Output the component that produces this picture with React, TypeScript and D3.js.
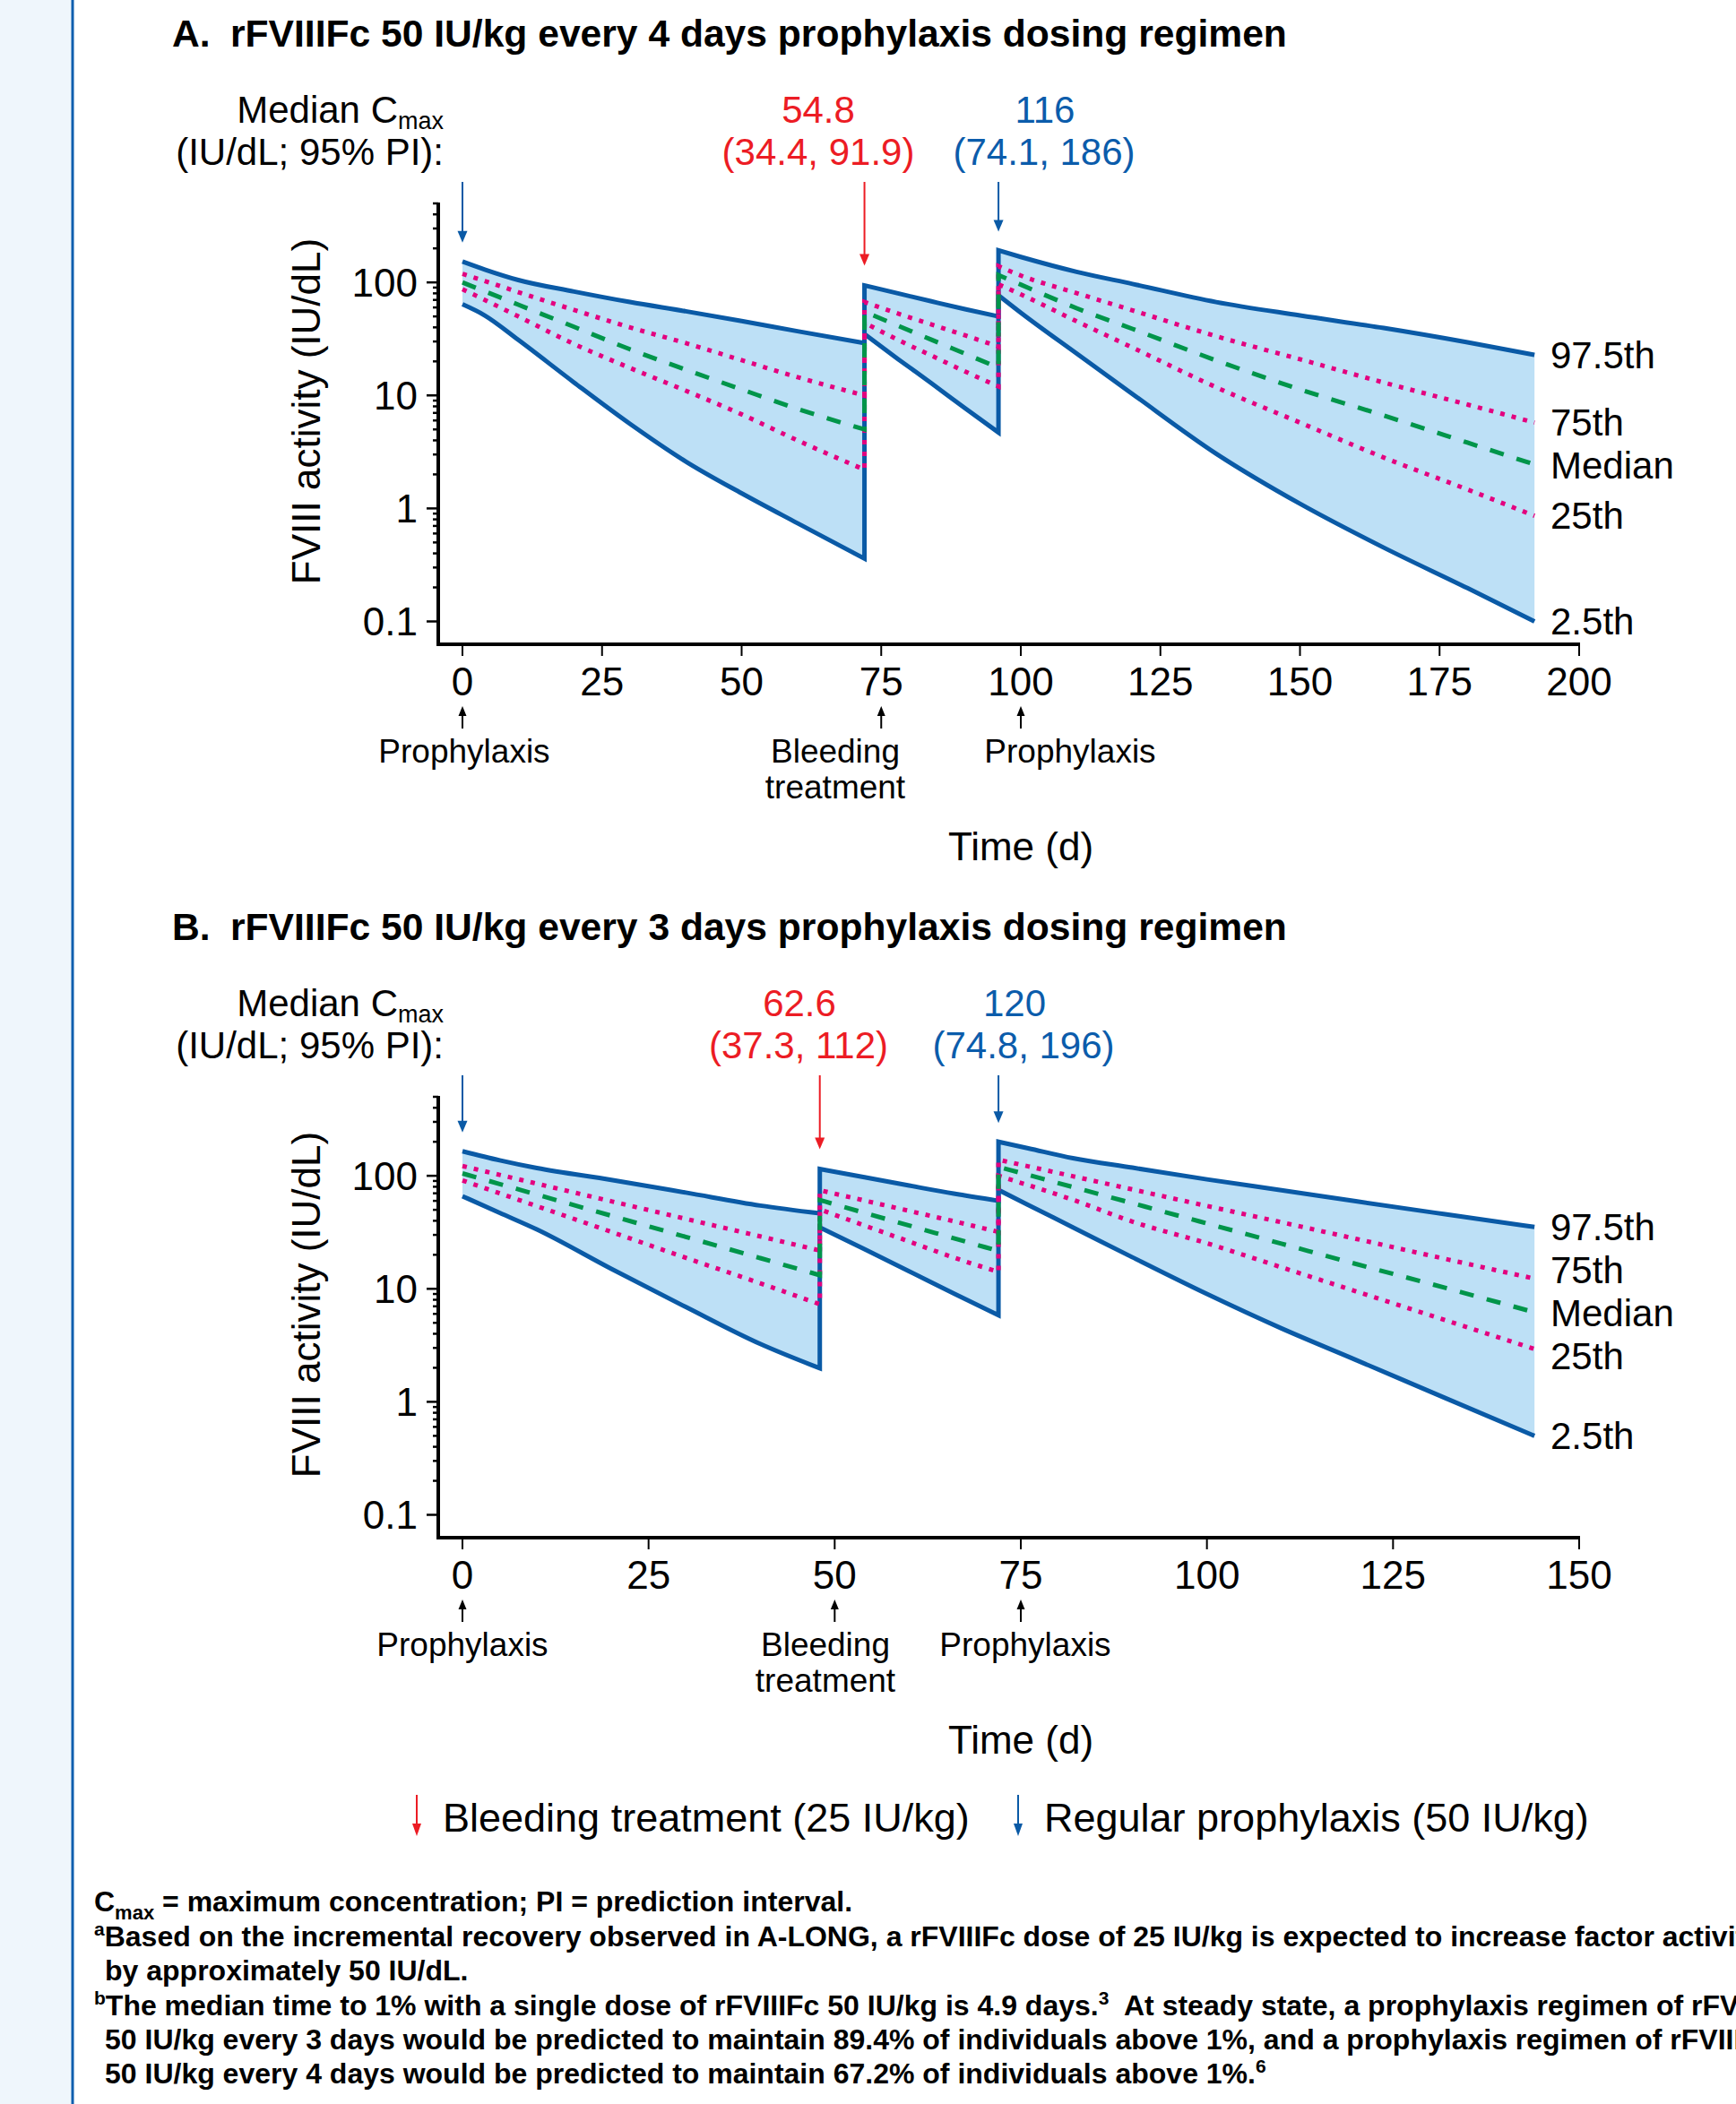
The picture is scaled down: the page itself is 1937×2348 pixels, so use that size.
import React from 'react';
import * as d3 from 'd3';

// ---------- Panel A data (rFVIIIFc 50 IU/kg every 4 days) ----------
const A_time = [0, 4, 10, 20, 30, 40, 50, 60, 72, 72, 78, 84, 90, 96, 96, 100, 110, 120, 135, 150, 165, 180, 192];
const A_p975 = [153, 130, 105, 83, 67, 55.5, 45.5, 37, 29, 94, 80, 68, 58, 50, 192, 168, 124, 97, 67, 51, 39.5, 29.5, 22.8];
const A_p75 = [119, 103, 82, 57, 40, 29, 20.5, 14.5, 10, 67, 53, 42.5, 34, 27, 139, 115, 80.4, 56.6, 33.4, 20.9, 13, 8.3, 5.75];
const A_median = [100, 83.4, 63.5, 40.4, 25.6, 16.9, 11.3, 7.6, 5.0, 55, 41.4, 31.1, 23.4, 17.6, 116, 95.5, 59.1, 38.8, 20.4, 11.3, 6.64, 3.82, 2.45];
const A_p25 = [87, 70, 50, 28.5, 17.5, 11, 6.8, 4.0, 2.2, 44, 31, 22.5, 16.3, 12, 96, 78.4, 45.3, 26.5, 11.8, 5.75, 2.82, 1.47, 0.86];
const A_p025 = [64, 51, 31, 13, 5.6, 2.6, 1.36, 0.74, 0.36, 35, 21, 12.8, 7.7, 4.7, 77, 54, 23.5, 10.3, 3.05, 1.1, 0.45, 0.197, 0.10];
const A_xTicks = [0, 25, 50, 75, 100, 125, 150, 175, 200];
const A_prophylaxisDoses = [0, 96];
const A_bleedingDoses = [72];
const A_cmaxBleed = ['54.8', '(34.4, 91.9)'];
const A_cmaxProph = ['116', '(74.1, 186)'];
const A_eventTicks = [0, 75, 100];

// ---------- Panel B data (rFVIIIFc 50 IU/kg every 3 days) ----------
const B_time = [0, 5, 10, 20, 30, 40, 48, 48, 54, 60, 66, 72, 72, 76, 82, 90, 100, 110, 120, 132, 144];
const B_p975 = [165, 137, 117, 92, 71, 54.5, 46.5, 115, 97, 82, 69.5, 60, 200, 175, 143, 118, 93, 74.5, 59.5, 45.7, 35.2];
const B_p75 = [122, 102, 85.2, 59.5, 41.6, 29.1, 21.8, 74.5, 60.4, 48.9, 39.6, 31.9, 138.7, 121.2, 99.1, 75.7, 54.1, 38.8, 27.7, 18.4, 12.3];
const B_median = [105, 84.6, 68.2, 44.3, 28.8, 18.7, 13.2, 61, 47, 36.3, 28, 21.6, 120, 101.8, 79.5, 57.2, 37.9, 25.1, 16.6, 10.2, 6.2];
const B_p25 = [91, 70, 53.9, 31.9, 18.8, 11.2, 7.3, 50.4, 36.3, 26.2, 18.9, 14.1, 100, 82.6, 61.3, 39.3, 25.3, 15.5, 9.5, 5.28, 2.93];
const B_p025 = [66, 47, 33.5, 15, 6.9, 3.25, 1.98, 35, 22.4, 14.3, 9.1, 5.85, 75, 55.1, 35, 19, 9.0, 4.47, 2.35, 1.08, 0.5];
const B_xTicks = [0, 25, 50, 75, 100, 125, 150];
const B_prophylaxisDoses = [0, 72];
const B_bleedingDoses = [48];
const B_cmaxBleed = ['62.6', '(37.3, 112)'];
const B_cmaxProph = ['120', '(74.8, 196)'];
const B_eventTicks = [0, 50, 75];

const yMajor = [0.1, 1, 10, 100];
const yMinor = [0.2, 0.3, 0.4, 0.5, 0.6, 0.7, 0.8, 0.9, 2, 3, 4, 5, 6, 7, 8, 9, 20, 30, 40, 50, 60, 70, 80, 90, 200, 300, 400, 500];
const curveLabels = ['97.5th', '75th', 'Median', '25th', '2.5th'];

const FONT = "'Liberation Sans', Arial, Helvetica, sans-serif";
const BLUE = '#0a5aa6';
const FILL = '#bde0f6';
const PINK = '#e3007f';
const GREEN = '#00954a';
const RED = '#ec1c24';
const TXTBLUE = '#0b5cab';

function spread(ys: number[], gap: number): number[] {
  const arr = ys.map((y, i) => ({ y, i })).sort((a, b) => a.y - b.y);
  for (let it = 0; it < 200; it++) {
    for (let k = 1; k < arr.length; k++) {
      const d = arr[k].y - arr[k - 1].y;
      if (d < gap) {
        const m = (gap - d) / 2;
        arr[k].y += m;
        arr[k - 1].y -= m;
      }
    }
  }
  const out = new Array(ys.length);
  arr.forEach((a) => (out[a.i] = a.y));
  return out;
}

function UpArrow({ x, y1, y2, color, w = 2, head = 12, hw = 5 }: any) {
  return (
    <g>
      <line x1={x} x2={x} y1={y1 + head - 1} y2={y2} stroke={color} strokeWidth={w} />
      <polygon points={`${x - hw},${y1 + head} ${x + hw},${y1 + head} ${x},${y1}`} fill={color} />
    </g>
  );
}

function DownArrow({ x, y1, y2, color, w = 2, head = 13, hw = 5.5 }: any) {
  return (
    <g>
      <line x1={x} x2={x} y1={y1} y2={y2 - head + 1} stroke={color} strokeWidth={w} />
      <polygon points={`${x - hw},${y2 - head} ${x + hw},${y2 - head} ${x},${y2}`} fill={color} />
    </g>
  );
}

function Panel(props: any) {
  const { oy, letter, title, time, p975, p75, median, p25, p025, xMax, xTicks, proph, bleed, cmaxBleed, cmaxProph, cmaxX, eventTicks, eventLabelX } = props;
  const x = d3.scaleLinear().domain([0, xMax]).range([516, 1762]);
  const y = d3.scaleLog().domain([0.1, 500]).range([693.5 + oy, 227 + oy]);

  // split into dosing intervals (a repeated time marks a dose)
  const segs: [number, number][] = [];
  let s0 = 0;
  for (let i = 1; i < time.length; i++) {
    if (time[i] === time[i - 1]) {
      segs.push([s0, i - 1]);
      s0 = i;
    }
  }
  segs.push([s0, time.length - 1]);

  const lineGen = d3.line<number>().x((i) => x(time[i])).curve(d3.curveMonotoneX);
  const seriesPath = (s: number[]) =>
    segs
      .map(([a, b], k) => {
        const p = lineGen.y((i) => y(s[i]))(d3.range(a, b + 1)) as string;
        return k > 0 ? 'L' + p.slice(1) : p;
      })
      .join('');
  const areaGen = d3
    .area<number>()
    .x((i) => x(time[i]))
    .y0((i) => y(p025[i]))
    .y1((i) => y(p975[i]))
    .curve(d3.curveMonotoneX);

  const axisY = 719 + oy;
  const last = time.length - 1;
  const ends = [p975[last], p75[last], median[last], p25[last], p025[last]].map((v) => y(v));
  const labelYs = spread(ends, 48);
  const peakAt = (t: number) => {
    let best = 0;
    time.forEach((tt: number, i: number) => {
      if (tt === t) best = Math.max(best, p975[i]);
    });
    return best;
  };

  return (
    <g fontFamily={FONT}>
      {/* Title */}
      <text x={192} y={52 + oy} fontSize={42.6} fontWeight="bold">{letter}</text>
      <text x={257} y={52 + oy} fontSize={42.6} fontWeight="bold">{title}</text>

      {/* Cmax header */}
      <text x={495} y={137 + oy} fontSize={42} textAnchor="end">
        Median C<tspan fontSize={27} dy={7}>max</tspan>
      </text>
      <text x={495} y={184 + oy} fontSize={42} textAnchor="end">(IU/dL; 95% PI):</text>
      <text x={cmaxX[0]} y={137 + oy} fontSize={42} textAnchor="middle" fill={RED}>{cmaxBleed[0]}</text>
      <text x={cmaxX[1]} y={184 + oy} fontSize={42} textAnchor="middle" fill={RED}>{cmaxBleed[1]}</text>
      <text x={cmaxX[2]} y={137 + oy} fontSize={42} textAnchor="middle" fill={TXTBLUE}>{cmaxProph[0]}</text>
      <text x={cmaxX[3]} y={184 + oy} fontSize={42} textAnchor="middle" fill={TXTBLUE}>{cmaxProph[1]}</text>

      {/* Dose arrows */}
      {proph.map((t: number) => (
        <DownArrow key={'p' + t} x={x(t)} y1={203 + oy} y2={y(peakAt(t)) - 21} color={BLUE} />
      ))}
      {bleed.map((t: number) => (
        <DownArrow key={'b' + t} x={x(t)} y1={203 + oy} y2={y(peakAt(t)) - 22} color={RED} />
      ))}

      {/* Band + lines */}
      {segs.map(([a, b]) => (
        <path key={'a' + a} d={areaGen(d3.range(a, b + 1)) as string} fill={FILL} />
      ))}
      <path d={seriesPath(p975)} fill="none" stroke={BLUE} strokeWidth={5} />
      <path d={seriesPath(p025)} fill="none" stroke={BLUE} strokeWidth={5} />
      <path d={seriesPath(p75)} fill="none" stroke={PINK} strokeWidth={5} strokeDasharray="5 8" />
      <path d={seriesPath(p25)} fill="none" stroke={PINK} strokeWidth={5} strokeDasharray="5 8" />
      <path d={seriesPath(median)} fill="none" stroke={GREEN} strokeWidth={5} strokeDasharray="16 15" />

      {/* Curve labels */}
      {curveLabels.map((l, i) => (
        <text key={l} x={1730} y={labelYs[i]} dy="0.35em" fontSize={42}>{l}</text>
      ))}

      {/* Y axis */}
      <line x1={489} x2={489} y1={y(500) - 1} y2={axisY + 2} stroke="#000" strokeWidth={4} />
      {yMajor.map((v) => (
        <g key={'M' + v}>
          <line x1={476} x2={489} y1={y(v)} y2={y(v)} stroke="#000" strokeWidth={2.5} />
          <text x={466} y={y(v)} dy="0.35em" fontSize={44} textAnchor="end">{String(v)}</text>
        </g>
      ))}
      {yMinor.map((v) => (
        <line key={'m' + v} x1={483} x2={489} y1={y(v)} y2={y(v)} stroke="#000" strokeWidth={2.5} />
      ))}
      <text transform={`translate(357,${459 + oy}) rotate(-90)`} fontSize={44} textAnchor="middle">FVIII activity (IU/dL)</text>

      {/* X axis */}
      <line x1={487} x2={1763} y1={axisY} y2={axisY} stroke="#000" strokeWidth={4} />
      {xTicks.map((t: number) => (
        <g key={'x' + t}>
          <line x1={x(t)} x2={x(t)} y1={axisY} y2={axisY + 13} stroke="#000" strokeWidth={2} />
          <text x={x(t)} y={776 + oy} fontSize={44} textAnchor="middle">{t}</text>
        </g>
      ))}

      {/* Event arrows under ticks */}
      {eventTicks.map((t: number) => (
        <UpArrow key={'e' + t} x={x(t)} y1={788 + oy} y2={813 + oy} color="#000" w={2} head={11} hw={4.5} />
      ))}
      <text x={eventLabelX[0]} y={851 + oy} fontSize={37} textAnchor="middle">Prophylaxis</text>
      <text x={eventLabelX[1]} y={851 + oy} fontSize={37} textAnchor="middle">Bleeding</text>
      <text x={eventLabelX[1]} y={891 + oy} fontSize={37} textAnchor="middle">treatment</text>
      <text x={eventLabelX[2]} y={851 + oy} fontSize={37} textAnchor="middle">Prophylaxis</text>

      <text x={1139} y={960 + oy} fontSize={44} textAnchor="middle">Time (d)</text>
    </g>
  );
}

export default function App() {
  const W = 1937;
  const H = 2348;
  return (
    <div style={{ position: 'absolute', left: 0, top: 0 }}>
      <svg width={W} height={H} viewBox={`0 0 ${W} ${H}`} style={{ display: 'block', background: '#fff' }}>
        <rect x={0} y={0} width={80} height={H} fill="#eff6fc" />
        <line x1={81} x2={81} y1={0} y2={H} stroke="#0f5fae" strokeWidth={3} />

        <Panel
          oy={0}
          letter="A."
          title="rFVIIIFc 50 IU/kg every 4 days prophylaxis dosing regimen"
          time={A_time}
          p975={A_p975}
          p75={A_p75}
          median={A_median}
          p25={A_p25}
          p025={A_p025}
          xMax={200}
          xTicks={A_xTicks}
          proph={A_prophylaxisDoses}
          bleed={A_bleedingDoses}
          cmaxBleed={A_cmaxBleed}
          cmaxProph={A_cmaxProph}
          cmaxX={[913, 913, 1166, 1165]}
          eventTicks={A_eventTicks}
          eventLabelX={[518, 932, 1194]}
        />
        <Panel
          oy={997}
          letter="B."
          title="rFVIIIFc 50 IU/kg every 3 days prophylaxis dosing regimen"
          time={B_time}
          p975={B_p975}
          p75={B_p75}
          median={B_median}
          p25={B_p25}
          p025={B_p025}
          xMax={150}
          xTicks={B_xTicks}
          proph={B_prophylaxisDoses}
          bleed={B_bleedingDoses}
          cmaxBleed={B_cmaxBleed}
          cmaxProph={B_cmaxProph}
          cmaxX={[892, 891, 1132, 1142]}
          eventTicks={B_eventTicks}
          eventLabelX={[516, 921, 1144]}
        />

        {/* Legend */}
        <g fontFamily={FONT}>
          <DownArrow x={465} y1={2003} y2={2049} color={RED} w={2} head={14} hw={5} />
          <text x={494} y={2044} fontSize={45}>Bleeding treatment (25 IU/kg)</text>
          <DownArrow x={1136} y1={2003} y2={2049} color={BLUE} w={2} head={14} hw={5} />
          <text x={1165} y={2044} fontSize={45}>Regular prophylaxis (50 IU/kg)</text>
        </g>

        {/* Footnotes */}
        <g fontFamily={FONT} fontWeight="bold" fontSize={32}>
          <text x={105} y={2133}>
            C<tspan fontSize={22} dy={9}>max</tspan>
            <tspan dy={-9}> = maximum concentration; PI = prediction interval.</tspan>
          </text>
          <text x={105} y={2172}>
            <tspan fontSize={21} dy={-12}>a</tspan>
            <tspan dy={12}>Based on the incremental recovery observed in A-LONG, a rFVIIIFc dose of 25 IU/kg is expected to increase factor activity</tspan>
          </text>
          <text x={117} y={2210}>by approximately 50 IU/dL.</text>
          <text x={105} y={2249}>
            <tspan fontSize={21} dy={-12}>b</tspan>
            <tspan dy={12}>The median time to 1% with a single dose of rFVIIIFc 50 IU/kg is 4.9 days.</tspan>
            <tspan fontSize={21} dy={-12}>3</tspan>
            <tspan dy={12} style={{ whiteSpace: 'pre' }}>  At steady state, a prophylaxis regimen of rFVIIIFc</tspan>
          </text>
          <text x={117} y={2287}>50 IU/kg every 3 days would be predicted to maintain 89.4% of individuals above 1%, and a prophylaxis regimen of rFVIIIFc</text>
          <text x={117} y={2325}>
            50 IU/kg every 4 days would be predicted to maintain 67.2% of individuals above 1%.
            <tspan fontSize={21} dy={-12}>6</tspan>
          </text>
        </g>
      </svg>
    </div>
  );
}
